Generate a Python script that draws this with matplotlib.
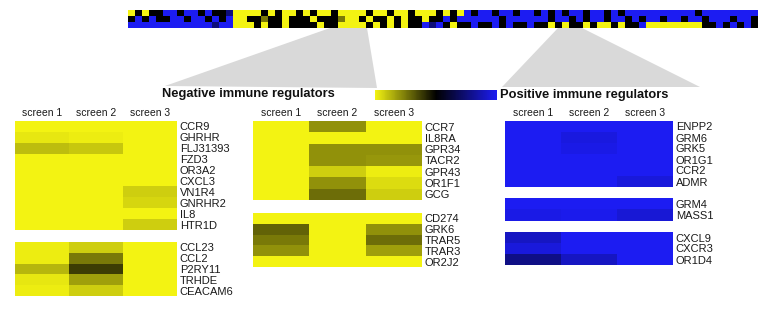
import numpy as np
import matplotlib
matplotlib.use('Agg')
import matplotlib.pyplot as plt
from matplotlib.colors import LinearSegmentedColormap, Normalize
from matplotlib.cm import ScalarMappable
from matplotlib.patches import Polygon

plt.rcParams['font.family'] = ['Liberation Sans', 'DejaVu Sans']

W, H = 766, 315

# overview strip, one char per column: Y yellow, y dark yellow, k black, b dark blue, B blue
STRIP_CODES = {'Y': -1.0, 'y': -0.5, 'k': 0.0, 'b': 0.5, 'B': 1.0}
strip_rows = [
    'YkYkk' 'BBkBB' 'kBkkb' 'YYY' 'YkYkYYkYkYYkY' 'YY' 'YkYYkYYkYYYk'
    'YkY' 'BkBBkBBkBBk' 'BkBkBBkBBkBkB' 'BBBBBBBBBkBBBBBBBB',
    'kBkBk' 'kBBkB' 'BkBkB' 'YYk' 'kykkYkkkYkkky' 'YY' 'kYkkYkYkkYkk'
    'BkB' 'BBBBBkBBBBB' 'BkBBkBkBBkBBk' 'BkBBkBBkBBkBBBkBBk',
    'BBBBB' 'BBBBB' 'BBbBB' 'YYY' 'kYkkYkkkkYkkY' 'YY' 'YkYkYkYkkBbB'
    'kYk' 'kBkkBkBkkBk' 'kYkYkkYkYYkYk' 'kBYYYYYYYYkkBkBkBk',
]

screens = ['screen 1', 'screen 2', 'screen 3']

# negative regulators, left panel
neg_a_genes = ['CCR9', 'GHRHR', 'FLJ31393', 'FZD3', 'OR3A2', 'CXCL3', 'VN1R4', 'GNRHR2', 'IL8', 'HTR1D']
neg_a_vals = [[-1, -1, -1], [-0.95, -0.97, -1], [-0.78, -0.82, -1], [-1, -1, -1], [-1, -1, -1],
              [-1, -1, -1], [-1, -1, -0.85], [-1, -1, -0.88], [-1, -1, -1], [-1, -1, -0.85]]
neg_b_genes = ['CCL23', 'CCL2', 'P2RY11', 'TRHDE', 'CEACAM6']
neg_b_vals = [[-0.97, -0.85, -1], [-0.97, -0.5, -1], [-0.75, -0.25, -1], [-0.95, -0.65, -1], [-0.97, -0.85, -1]]

# negative regulators, middle panel
neg_c_genes = ['CCR7', 'IL8RA', 'GPR34', 'TACR2', 'GPR43', 'OR1F1', 'GCG']
neg_c_vals = [[-1, -0.6, -1], [-1, -1, -1], [-1, -0.6, -0.6], [-1, -0.6, -0.62],
              [-1, -0.85, -0.97], [-1, -0.6, -0.9], [-1, -0.45, -0.85]]
neg_d_genes = ['CD274', 'GRK6', 'TRAR5', 'TRAR3', 'OR2J2']
neg_d_vals = [[-1, -1, -1], [-0.4, -1, -0.6], [-0.5, -1, -0.45], [-0.6, -1, -0.65], [-1, -1, -1]]

# positive regulators
pos_a_genes = ['ENPP2', 'GRM6', 'GRK5', 'OR1G1', 'CCR2', 'ADMR']
pos_a_vals = [[1, 1, 1], [1, 0.92, 1], [1, 0.95, 1], [1, 1, 1], [1, 1, 1], [1, 1, 0.9]]
pos_b_genes = ['GRM4', 'MASS1']
pos_b_vals = [[1, 1, 1], [0.95, 0.97, 0.88]]
pos_c_genes = ['CXCL9', 'CXCR3', 'OR1D4']
pos_c_vals = [[0.8, 1, 1], [0.9, 1, 1], [0.55, 0.8, 1]]

cmap = LinearSegmentedColormap.from_list('yellow_black_blue', ['#f3f312', '#000000', '#1c1cf2'])


def px_axes(fig, x0, y0, x1, y1):
    return fig.add_axes([x0 / W, 1 - y1 / H, (x1 - x0) / W, (y1 - y0) / H])


def draw_block(fig, box, genes, values, headers=False):
    ax = px_axes(fig, *box)
    ax.imshow(np.array(values, dtype=float), cmap=cmap, vmin=-1, vmax=1,
              aspect='auto', interpolation='nearest')
    ax.set_xticks([])
    ax.yaxis.tick_right()
    ax.set_yticks(range(len(genes)))
    ax.set_yticklabels(genes, fontsize=8, color='#1a1a1a')
    ax.tick_params(axis='y', length=0, pad=2)
    for s in ax.spines.values():
        s.set_visible(False)
    if headers:
        for i, name in enumerate(screens):
            ax.annotate(name, xy=(i, -0.5), xytext=(0, 5.5), textcoords='offset points',
                        ha='center', va='center', fontsize=7.5, color='#1a1a1a')
    return ax


fig = plt.figure(figsize=(W / 100, H / 100), dpi=100)

bg = fig.add_axes([0, 0, 1, 1], zorder=0)
bg.set_xlim(0, W)
bg.set_ylim(H, 0)
bg.axis('off')
bg.add_patch(Polygon([(330, 28), (367, 28), (377, 88), (165, 86)], closed=True,
                     facecolor='#d9d9d9', edgecolor='none'))
bg.add_patch(Polygon([(558, 28), (582, 28), (700, 87), (502, 87)], closed=True,
                     facecolor='#d9d9d9', edgecolor='none'))
bg.text(162, 94, 'Negative immune regulators', fontsize=9.3, fontweight='bold',
        ha='left', va='center', color='#111111')
bg.text(500, 95, 'Positive immune regulators', fontsize=9.3, fontweight='bold',
        ha='left', va='center', color='#111111')

# overview strip
strip = np.array([[STRIP_CODES[c] for c in row] for row in strip_rows])
sax = px_axes(fig, 128, 10, 758, 28)
sax.imshow(strip, cmap=cmap, vmin=-1, vmax=1, aspect='auto', interpolation='nearest')
sax.axis('off')

# colour scale
cax = px_axes(fig, 375, 90, 497, 100)
cb = fig.colorbar(ScalarMappable(norm=Normalize(-1, 1), cmap=cmap), cax=cax, orientation='horizontal')
cb.set_ticks([])
cb.outline.set_visible(False)

draw_block(fig, (15, 121, 177, 230), neg_a_genes, neg_a_vals, headers=True)
draw_block(fig, (15, 242, 177, 296), neg_b_genes, neg_b_vals)
draw_block(fig, (253, 121, 422, 200), neg_c_genes, neg_c_vals, headers=True)
draw_block(fig, (253, 213, 422, 267), neg_d_genes, neg_d_vals)
draw_block(fig, (505, 121, 673, 187), pos_a_genes, pos_a_vals, headers=True)
draw_block(fig, (505, 198, 673, 221), pos_b_genes, pos_b_vals)
draw_block(fig, (505, 232, 673, 265), pos_c_genes, pos_c_vals)

fig.savefig('out.png', dpi=100)
